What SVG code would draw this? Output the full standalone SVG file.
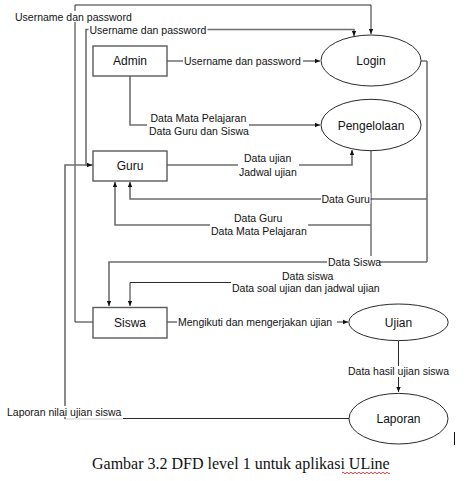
<svg xmlns="http://www.w3.org/2000/svg" width="469" height="481" viewBox="0 0 469 481">
<defs>
<marker id="arr" markerUnits="userSpaceOnUse" markerWidth="6" markerHeight="6" refX="5" refY="3" orient="auto">
<path d="M0,0.8 L5,3 L0,5.2 Z" fill="#111"/>
</marker>
<style>
.g{fill:none;stroke:#6e6e6e;stroke-width:1.6}
.k{fill:none;stroke:#2a2a2a;stroke-width:1}
.lt{fill:none;stroke:#cfcfcf;stroke-width:1}
.bg{fill:#fff;stroke:none}
.lbl{font-family:"Liberation Sans",Arial,sans-serif;font-size:10.5px;fill:#111}
.nd{font-family:"Liberation Sans",Arial,sans-serif;font-size:12px;fill:#111;text-anchor:middle}
.box{fill:#fff;stroke:#5a5a5a;stroke-width:1.4}
.ell{fill:#fff;stroke:#2a2a2a;stroke-width:1}
.cap{font-family:"Liberation Serif","Times New Roman",serif;font-size:16px;fill:#111}
</style>
</defs>
<rect width="469" height="481" fill="#fff"/>
<g id="connectors">
<path class="k" d="M93,322 H75 V5 H371 V34" marker-end="url(#arr)"/>
<path class="g" d="M93,165 H86 V29.5 H354 V36" marker-end="url(#arr)"/>
<path class="g" d="M167,61 H320" marker-end="url(#arr)"/>
<path class="g" d="M130,76 V125 H320" marker-end="url(#arr)"/>
<path class="g" d="M167,165 H352 V150" marker-end="url(#arr)"/>
<path class="k" d="M421,61 H427"/>
<path class="g" d="M427,61 V262"/>
<path class="g" d="M427,199 H130 V182" marker-end="url(#arr)"/>
<path class="k" d="M371,151 V260"/>
<path class="g" d="M371,225 H115 V182" marker-end="url(#arr)"/>
<path class="g" d="M427,262 H109 V306" marker-end="url(#arr)"/>
<path class="k" d="M231,282.5 H130 V306" marker-end="url(#arr)"/>
<path class="k" d="M167,322 H348" marker-end="url(#arr)"/>
<path class="k" d="M398.5,341 V392" marker-end="url(#arr)"/>
<path class="k" d="M349,418.5 H123"/>
<path class="lt" d="M123,419 H65"/>
<path class="g" d="M65,419 V165 H92" marker-end="url(#arr)"/>
<rect class="bg" x="14" y="11" width="120" height="11"/>
<text class="lbl" x="15" y="21">Username dan password</text>
<rect class="bg" x="88.5" y="24" width="119" height="11"/>
<text class="lbl" x="89.5" y="33.5">Username dan password</text>
<rect class="bg" x="183" y="56" width="120" height="11"/>
<text class="lbl" x="184" y="64.5">Username dan password</text>
<rect class="bg" x="147" y="121" width="102" height="8"/>
<text class="lbl" x="150.5" y="121.5">Data Mata Pelajaran</text>
<text class="lbl" x="149" y="134.5">Data Guru dan Siswa</text>
<rect class="bg" x="238" y="161" width="61" height="8"/>
<text class="lbl" x="244" y="161.5">Data ujian</text>
<text class="lbl" x="239" y="175.5">Jadwal ujian</text>
<rect class="bg" x="321" y="193" width="49.5" height="11"/>
<text class="lbl" x="321.5" y="202.5">Data Guru</text>
<rect class="bg" x="210" y="221" width="98" height="8"/>
<text class="lbl" x="234" y="221.5">Data Guru</text>
<text class="lbl" x="211" y="235">Data Mata Pelajaran</text>
<rect class="bg" x="327" y="256" width="52" height="11"/>
<text class="lbl" x="328" y="265.5">Data Siswa</text>
<text class="lbl" x="282" y="279.5">Data siswa</text>
<text class="lbl" x="232" y="292">Data soal ujian dan jadwal ujian</text>
<rect class="bg" x="177" y="317" width="160" height="11"/>
<text class="lbl" x="178" y="326">Mengikuti dan mengerjakan ujian</text>
<rect class="bg" x="347" y="366" width="102" height="11"/>
<text class="lbl" x="348" y="374.5">Data hasil ujian siswa</text>
<rect class="bg" x="6" y="406" width="118" height="11"/>
<text class="lbl" x="7" y="415.5">Laporan nilai ujian siswa</text>
</g>
<g id="admin">
<rect class="box" x="93" y="46" width="74" height="30"/>
<text class="nd" x="130" y="65">Admin</text>
</g>
<g id="guru">
<rect class="box" x="93" y="151" width="74" height="30"/>
<text class="nd" x="130" y="170">Guru</text>
</g>
<g id="siswa">
<rect class="box" x="93" y="307.5" width="74" height="30.5"/>
<text class="nd" x="130" y="327">Siswa</text>
</g>
<g id="login">
<ellipse class="ell" cx="371" cy="60.5" rx="50" ry="25.5"/>
<text class="nd" x="371" y="65">Login</text>
</g>
<g id="pengelolaan">
<ellipse class="ell" cx="371" cy="125" rx="50" ry="25.7"/>
<text class="nd" x="371" y="129.5">Pengelolaan</text>
</g>
<g id="ujian">
<ellipse class="ell" cx="398.5" cy="322.3" rx="49.7" ry="18.3"/>
<text class="nd" x="398.5" y="326.5">Ujian</text>
</g>
<g id="laporan">
<ellipse class="ell" cx="398.5" cy="418.7" rx="49.5" ry="25.3"/>
<text class="nd" x="398.5" y="423">Laporan</text>
</g>
<line x1="454.5" y1="432" x2="454.5" y2="445" stroke="#111" stroke-width="1"/>
<text class="cap" x="92" y="469">Gambar 3.2 DFD level 1 untuk aplikasi ULine</text>
<path d="M342,473 q1,-1.5 2,0 t2,0 t2,0 t2,0 t2,0 t2,0 t2,0 t2,0 t2,0 t2,0 t2,0 t2,0 t2,0 t2,0 t2,0 t2,0 t2,0 t2,0 t2,0 t2,0 t2,0 t2,0 t2,0 t2,0" fill="none" stroke="#d01010" stroke-width="0.8"/>
</svg>
